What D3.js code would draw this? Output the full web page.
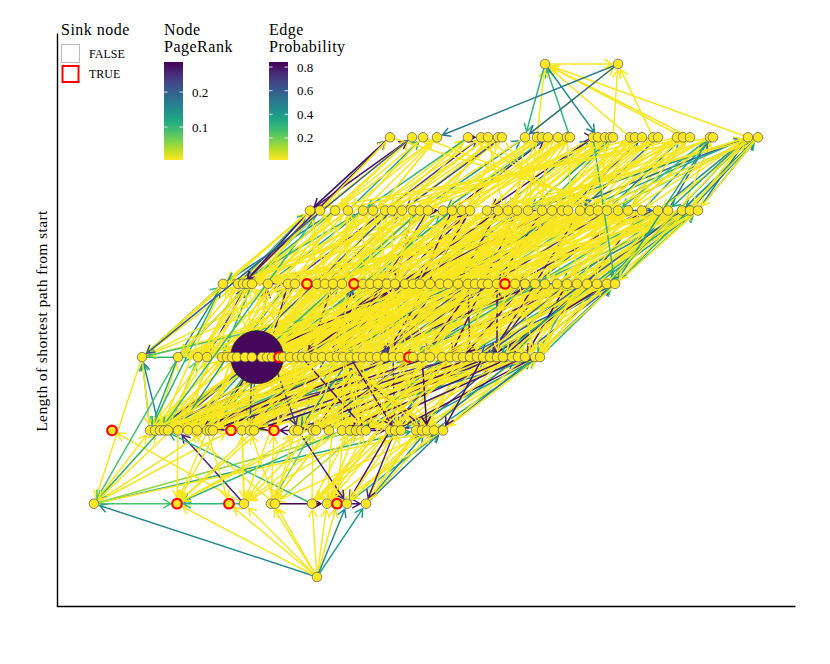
<!DOCTYPE html>
<html><head><meta charset="utf-8">
<script src="https://cdn.jsdelivr.net/npm/d3@7"></script>
<style>body{margin:0;background:#fff}svg{display:block}text{font-family:"Liberation Serif","Times New Roman",serif;fill:#000}</style>
</head><body><svg id="c" width="830" height="664"></svg>
<script>
// Layout x of nodes on each level (level = length of shortest path from start)
const levelX = [
 [317],
 [94,177,229,244,271,275,312,327,337,347,366],
 [112,150,155,160,164,168,178,188,197,207,210,213,231,242,250,254,274,294,298,313,316,329,342,350,356,361,366,390,395,401,416,422,427,434,443],
 [142,178,198,207,222,227,232,237,245,252,257,262,267,272,279,283,290,297,302,308,315,322,330,337,343,350,357,363,370,377,385,393,400,409,413,422,430,442,450,457,463,470,477,483,490,497,503,512,518,525,535,540],
 [223,238,243,247,252,268,288,295,307,317,325,333,342,354,363,370,378,387,395,405,413,420,430,440,448,458,468,475,482,488,497,505,515,525,535,545,557,567,577,587,597,607,615],
 [310,320,335,348,363,373,385,392,402,413,420,428,443,452,462,470,487,498,508,517,528,542,552,562,568,580,590,598,607,618,628,642,658,668,682,690,698],
 [390,412,423,437,468,481,488,498,502,525,537,542,548,558,567,570,593,598,605,610,613,630,635,642,653,658,677,683,690,710,713,748,758],
 [545,618]
];
// node id = level*100 + index
const sinkIds = [101,102,108,200,212,216,314,333,408,413,431];
const pageRankIds = [310];
const pageRankValues = [0.28];
const pageRankDefault = 0.006;
const pageRankTicks = [0.1, 0.2];
const probTicks = [0.2, 0.4, 0.6, 0.8];
const sinkLabels = ["FALSE", "TRUE"];

// [from, to, probability]
const edges = [
[0,100,.45],[0,101,.02],[0,102,.02],[0,103,.02],[0,104,.02],[0,105,.02],[0,106,.02],[0,107,.02],[0,108,.03],[0,109,.45],[0,110,.38],
[100,101,.25],[103,101,.3],[104,107,.85],[109,110,.8],
[100,201,.02],[100,203,.02],[100,209,.03],[100,212,.02],[100,230,.35],[100,233,.02],[100,224,.15],[103,200,.02],
[103,206,.75],[103,213,.02],[103,217,.02],[104,216,.02],[104,219,.2],[104,221,.02],[105,207,.02],[105,225,.1],[105,214,.02],[106,219,.02],[106,223,.02],[106,204,.3],[107,226,.02],[107,227,.02],[109,231,.02],[109,234,.3],[110,232,.45],[110,234,.5],[110,229,.02],[110,233,.02],
[206,101,.02],[215,101,.02],[310,101,.03],[324,101,.02],[222,101,.3],[213,103,.02],[226,103,.02],[317,103,.02],[233,104,.02],[320,105,.02],[221,104,.02],[229,106,.02],[337,106,.02],[231,107,.02],[412,107,.02],[234,108,.02],[325,108,.02],[227,109,.8],[232,109,.02],[341,110,.02],[230,110,.02],[203,100,.3],[209,102,.02],[218,109,.75],[228,110,.75],
[201,300,.3],[201,304,.02],[201,310,.03],[202,301,.02],[202,310,.8],[203,305,.02],[203,300,.45],[204,310,.02],[204,316,.02],[205,302,.2],[205,310,.7],[206,310,.02],[206,319,.02],[207,303,.03],[207,310,.35],[208,311,.02],[208,322,.6],[209,310,.02],[209,306,.02],[210,313,.3],[210,310,.02],[211,324,.02],[211,310,.8],[213,310,.02],[213,318,.02],[214,326,.02],[214,310,.45],[215,320,.02],[215,330,.7],[217,310,.02],[217,323,.2],[218,328,.02],[218,310,.03],[219,331,.02],[219,310,.02],[220,327,.85],[220,336,.02],[221,310,.02],[221,333,.3],[222,334,.02],[222,310,.03],[223,339,.02],[223,325,.55],[224,341,.02],[224,310,.02],[225,335,.02],[225,344,.4],[226,343,.02],[226,310,.02],[227,345,.02],[227,338,.75],[228,347,.02],[228,337,.3],[229,349,.02],[229,310,.02],[230,350,.02],[230,346,.6],[231,351,.02],[231,342,.02],[232,348,.45],[232,340,.02],[233,351,.35],[233,329,.02],[234,350,.5],[234,351,.02],
[201,205,.02],[217,216,.8],[231,233,.75],[226,227,.8],
[310,201,.02],[310,203,.02],[310,206,.02],[310,209,.3],[310,213,.02],[310,219,.03],[310,223,.02],[310,227,.02],[310,232,.02],[312,202,.02],[316,204,.6],[318,205,.02],[320,207,.02],[322,201,.8],[324,208,.02],[326,210,.02],[328,203,.35],[330,211,.02],[332,206,.02],[335,201,.02],[336,212,.02],[338,202,.02],[340,204,.7],[342,213,.02],[344,209,.02],[346,214,.2],[348,205,.02],[350,215,.02],[351,217,.45],[349,218,.02],[347,219,.02],[345,220,.8],[343,221,.02],[341,222,.02],[339,224,.02],[337,225,.3],[334,226,.02],[331,228,.6],[329,229,.02],[327,230,.02],[325,231,.02],[323,232,.75],[321,233,.02],[319,234,.02],[317,216,.02],[315,212,.02],[311,202,.5],[309,203,.02],[307,201,.02],[305,206,.4],[304,201,.02],[303,203,.02],[301,201,.35],[300,201,.02],[300,100,.02],[301,100,.25],[308,207,.02],[306,209,.02],[346,203,.02],[350,206,.02],[351,209,.02],[344,201,.02],[340,210,.02],[336,204,.02],[332,211,.35],[328,202,.02],[324,212,.02],[320,213,.02],[326,217,.02],[330,218,.02],[334,219,.7],[338,221,.02],[342,223,.02],[348,226,.02],[351,229,.4],
[336,210,.8],[342,215,.82],[347,222,.8],[349,225,.78],[344,217,.8],[339,213,.75],[332,208,.8],[350,228,.82],[327,205,.78],
[315,316,.8],[327,328,.75],[340,342,.8],[300,302,.3],[346,348,.6],
[300,400,.3],[300,401,.02],[301,400,.45],[302,402,.02],[303,403,.7],[304,404,.02],[305,405,.02],[306,406,.35],[307,407,.02],[308,408,.02],[309,409,.02],[310,410,.02],[310,405,.8],[310,413,.02],[310,420,.02],[311,411,.02],[312,412,.6],[313,414,.02],[315,415,.02],[316,416,.3],[317,417,.02],[318,418,.02],[319,419,.85],[320,420,.02],[321,421,.02],[322,422,.4],[323,423,.02],[324,424,.02],[325,425,.02],[326,426,.7],[327,427,.02],[328,428,.02],[329,429,.25],[330,430,.02],[331,431,.02],[332,432,.02],[334,433,.55],[335,434,.02],[336,435,.02],[337,436,.8],[338,437,.02],[339,438,.02],[340,439,.3],[341,440,.02],[342,441,.02],[343,442,.45],[344,440,.02],[345,441,.02],[346,442,.02],[347,438,.35],[348,442,.6],[349,441,.02],[350,442,.45],[351,442,.3],[351,440,.02],[350,439,.02],[302,404,.02],[304,406,.02],[307,409,.02],[311,400,.02],[317,404,.02],[321,410,.02],[325,416,.02],[330,424,.02],[335,428,.02],[339,432,.02],
[400,300,.02],[401,301,.02],[402,310,.02],[403,302,.02],[404,304,.3],[405,310,.02],[406,300,.02],[407,310,.6],[409,303,.02],[410,310,.02],[411,306,.02],[412,310,.02],[414,305,.02],[415,310,.35],[416,308,.02],[417,301,.02],[418,310,.02],[419,311,.02],[420,310,.8],[421,313,.02],[422,300,.02],[423,315,.02],[424,310,.02],[425,316,.45],[426,318,.02],[427,310,.02],[428,320,.02],[429,322,.7],[430,310,.02],[432,324,.02],[433,326,.02],[434,310,.3],[435,328,.02],[436,330,.02],[437,310,.02],[438,332,.8],[439,334,.02],[440,335,.02],[441,310,.02],[442,337,.02],[442,340,.55],[441,343,.02],[440,345,.02],[439,348,.02],[438,350,.35],[437,351,.02],[436,347,.02],[435,344,.75],[434,341,.02],[433,338,.02],[432,336,.02],[430,331,.02],[428,327,.02],[426,323,.6],[424,319,.02],[422,317,.02],[420,312,.02],[418,309,.02],[416,307,.3],[414,302,.02],[412,301,.02],[410,300,.02],[442,301,.02],[440,303,.02],[438,305,.02],[436,307,.02],[434,309,.02],[432,311,.02],[430,312,.02],[425,300,.25],[421,302,.02],[417,304,.02],
[441,344,.8],[439,346,.78],[437,349,.82],
[442,201,.02],[440,203,.02],[437,205,.02],[435,207,.3],[432,209,.02],[430,211,.02],[428,213,.02],[425,215,.02],[423,217,.02],[420,219,.02],[418,221,.02],[415,223,.02],[412,225,.02],[410,227,.02],[407,229,.02],[405,231,.02],[402,233,.02],[400,201,.3],[400,203,.02],[401,204,.02],[403,206,.02],[406,208,.02],[409,210,.02],[411,212,.02],[414,214,.02],[417,216,.02],[419,218,.45],[421,220,.02],[424,222,.02],[426,224,.02],[429,226,.02],[433,228,.02],[436,230,.02],[439,232,.02],[441,234,.02],[442,206,.02],[438,202,.02],[434,208,.8],[427,204,.02],
[440,101,.02],[425,103,.02],[415,104,.02],[435,106,.02],[420,107,.02],[430,109,.02],[405,101,.02],[410,100,.02],
[404,406,.8],[428,430,.75],[435,437,.5],[414,416,.7],
[316,417,.8],[322,413,.82],[341,426,.78],[345,430,.8],[419,322,.8],[423,330,.75],[427,335,.82],[433,340,.8],[318,226,.8],[325,228,.78],[335,232,.82],[343,234,.8],[422,318,.6],[426,329,.65],[437,342,.6],[309,214,.65],[313,218,.7],[406,312,.8],[411,319,.78],
[400,500,.02],[401,500,.3],[402,501,.02],[403,502,.02],[404,503,.02],[405,504,.4],[406,505,.02],[407,506,.02],[409,507,.02],[410,508,.65],[411,509,.02],[412,510,.02],[414,511,.02],[415,512,.3],[416,513,.02],[417,514,.02],[418,515,.8],[419,516,.02],[420,517,.02],[421,518,.02],[422,519,.45],[423,520,.02],[424,521,.02],[425,522,.02],[426,523,.7],[427,524,.02],[428,525,.02],[429,526,.25],[430,527,.02],[432,528,.02],[433,529,.02],[434,530,.55],[435,531,.02],[436,532,.02],[437,533,.35],[438,534,.02],[439,535,.02],[440,536,.4],[441,536,.02],[442,535,.35],[442,536,.3],[441,534,.02],[440,533,.02],[439,531,.8],[438,530,.02],[437,528,.02],[405,502,.02],[409,500,.02],[412,503,.02],[416,506,.02],[420,508,.02],[424,512,.02],[427,516,.02],[432,520,.02],[436,524,.02],[436,535,.02],[434,536,.3],[430,534,.02],[426,536,.02],
[500,400,.02],[501,401,.02],[502,402,.35],[503,403,.02],[504,404,.02],[505,405,.02],[506,406,.7],[507,407,.02],[508,409,.02],[509,410,.02],[510,411,.02],[511,412,.3],[512,413,.02],[513,414,.02],[514,415,.02],[515,416,.85],[516,417,.02],[517,418,.02],[518,419,.02],[519,420,.4],[520,421,.02],[521,422,.02],[522,423,.02],[523,424,.6],[524,425,.02],[525,426,.02],[526,427,.02],[527,428,.3],[528,429,.02],[529,430,.02],[530,431,.02],[531,432,.75],[532,433,.02],[533,434,.02],[534,435,.02],[535,436,.45],[536,437,.02],[536,438,.02],[535,439,.02],[534,440,.02],[533,441,.35],[532,442,.02],[536,400,.02],[534,401,.02],[532,402,.02],[530,403,.02],[528,404,.02],[526,405,.02],[524,406,.02],[522,407,.02],[520,409,.02],[518,410,.02],[516,411,.02],[514,412,.02],[512,400,.02],[510,402,.02],[508,404,.02],[506,403,.02],[504,401,.3],[502,400,.45],[500,402,.8],[531,408,.02],[529,413,.02],[527,418,.02],[525,422,.02],[523,427,.02],
[509,418,.8],[513,421,.78],[517,425,.8],[521,430,.82],[511,323,.75],[515,330,.8],[519,338,.8],[525,344,.78],
[500,300,.02],[501,301,.3],[502,302,.02],[503,303,.02],[504,304,.02],[505,305,.02],[506,306,.02],[507,307,.6],[508,308,.02],[509,309,.02],[510,310,.02],[511,311,.02],[512,312,.02],[513,313,.35],[514,315,.02],[515,316,.02],[516,317,.02],[517,318,.8],[518,319,.02],[519,320,.02],[520,321,.02],[521,322,.02],[522,323,.02],[523,324,.45],[524,325,.02],[525,326,.02],[526,327,.02],[527,328,.02],[528,329,.7],[529,330,.02],[530,331,.02],[531,332,.02],[532,334,.3],[533,335,.02],[534,336,.02],[535,337,.02],[536,338,.02],[536,310,.02],[534,310,.02],[532,310,.02],[530,310,.02],[528,310,.02],[526,310,.02],[524,310,.02],[522,310,.8],[520,310,.02],[518,310,.02],[516,310,.02],[514,310,.02],[512,310,.02],[510,310,.3],[508,310,.02],[506,310,.02],[504,310,.02],[502,310,.02],[536,301,.02],[535,303,.02],[533,305,.02],[531,307,.02],[529,309,.02],[527,312,.02],[525,315,.02],[523,317,.02],[521,319,.02],[519,321,.02],[517,323,.02],[515,325,.02],[511,327,.02],[509,329,.02],[507,331,.02],[505,333,.02],[503,335,.02],[501,337,.02],[535,345,.35],[533,347,.02],[531,349,.02],[529,351,.02],[536,350,.02],[534,343,.6],
[500,201,.02],[501,203,.3],[502,205,.02],[504,207,.02],[508,209,.02],[512,211,.02],[516,213,.02],[520,215,.02],[524,218,.02],[528,220,.02],[532,223,.02],[536,226,.02],[535,201,.02],[533,204,.02],[530,206,.02],[526,208,.02],[522,210,.02],[518,212,.02],[514,214,.02],[510,216,.02],[506,219,.02],[503,222,.02],[500,225,.02],
[536,101,.02],[530,103,.02],[526,106,.02],[520,107,.02],
[510,512,.8],[520,522,.75],[530,532,.6],
[500,600,.5],[501,600,.02],[502,601,.02],[503,602,.35],[504,603,.02],[505,604,.02],[506,605,.7],[507,606,.02],[508,607,.02],[509,608,.02],[510,609,.4],[511,610,.02],[512,611,.02],[513,612,.8],[514,613,.02],[515,614,.02],[516,615,.02],[517,616,.45],[518,617,.02],[519,618,.02],[520,619,.02],[521,620,.3],[522,621,.02],[523,622,.02],[524,623,.6],[525,624,.02],[526,625,.02],[527,626,.02],[528,627,.45],[529,628,.02],[530,629,.02],[531,630,.35],[532,631,.45],[533,631,.02],[534,632,.4],[535,632,.45],[536,631,.5],[536,632,.35],[535,631,.02],[534,630,.02],[533,629,.55],[500,601,.8],[502,603,.02],[506,604,.02],[510,607,.02],[514,610,.02],[518,614,.02],[522,618,.02],[526,622,.02],[530,626,.02],
[520,631,.45],[525,631,.35],[528,632,.4],[530,631,.02],[523,631,.55],[526,632,.3],[518,631,.02],
[600,500,.8],[601,501,.02],[602,502,.02],[603,503,.02],[604,504,.3],[605,505,.02],[606,506,.02],[607,507,.02],[608,508,.65],[609,509,.02],[610,510,.02],[611,511,.02],[612,512,.35],[613,513,.02],[614,514,.02],[615,515,.02],[616,516,.8],[617,517,.02],[618,518,.02],[619,519,.02],[620,520,.4],[621,521,.02],[622,522,.02],[623,523,.02],[624,524,.02],[625,525,.55],[626,526,.02],[627,527,.02],[628,528,.02],[629,529,.3],[630,530,.02],[631,531,.02],[632,532,.02],[631,533,.35],[632,534,.4],[631,535,.02],[632,536,.02],[630,500,.02],[628,502,.02],[626,504,.02],[624,506,.02],[622,508,.02],[620,510,.02],[618,512,.02],[616,514,.02],[614,516,.02],[612,518,.02],[610,520,.02],[608,522,.02],[606,524,.02],[604,526,.02],[602,528,.02],[600,530,.02],
[632,400,.02],[631,405,.02],[630,410,.02],[628,415,.02],[626,420,.02],[624,425,.02],[622,430,.02],[620,435,.02],[618,440,.02],[616,442,.3],[614,438,.02],[612,434,.02],[610,428,.02],[608,422,.02],[606,416,.02],[604,412,.02],[602,406,.02],[600,402,.8],[601,404,.02],[603,409,.02],[629,442,.35],[631,441,.4],[632,442,.02],
[632,310,.02],[630,305,.02],[627,315,.02],[624,320,.02],[621,325,.02],[618,330,.02],[615,335,.02],[612,340,.02],[609,345,.02],[606,350,.02],[603,310,.02],[600,301,.02],[601,300,.6],[631,350,.02],[628,346,.02],
[632,201,.02],[629,207,.02],[626,213,.02],[623,220,.02],[620,226,.02],
[604,605,.8],[616,617,.75],
[609,701,.02],[620,701,.02],[624,701,.02],[615,700,.3],[631,700,.02],[628,700,.02],[627,700,.02],[621,700,.02],[610,700,.02],
[700,617,.45],[700,609,.3],[701,603,.5],[701,609,.55],[700,701,.02]
];

// ---- build nodes ----
const prMap = new Map(pageRankIds.map((id,i)=>[id,pageRankValues[i]]));
const nodes = [];
levelX.forEach((xs,lv)=>xs.forEach((vx,i)=>{
  const id = lv*100+i;
  nodes.push({id, level:lv, x:vx, sink:sinkIds.includes(id), pr: prMap.has(id)?prMap.get(id):pageRankDefault});
}));
const byId = new Map(nodes.map(n=>[n.id,n]));

const svg = d3.select("#c");
const x = d3.scaleLinear().domain([57,795]).range([57,795]);
const y = d3.scaleLinear().domain([0,7]).range([577,64]);
const rScale = d3.scaleSqrt().domain([pageRankDefault,0.28]).range([4.8,26.5]);
const prDomain = [0.0057,0.286];
const probDomain = [0.013,0.843];
const nodeColor = d3.scaleSequential(d3.interpolateViridis).domain([prDomain[1],prDomain[0]]);
const edgeColor = d3.scaleSequential(d3.interpolateViridis).domain([probDomain[1],probDomain[0]]);

// axes
svg.append("g").attr("transform","translate(57,0)")
  .call(d3.axisLeft(d3.scaleLinear().range([606,33])).tickValues([]).tickSizeOuter(0))
  .select(".domain").attr("stroke","#000").attr("stroke-width",1.4);
svg.append("g").attr("transform","translate(0,606)")
  .call(d3.axisBottom(d3.scaleLinear().range([56.3,795])).tickValues([]).tickSizeOuter(0))
  .select(".domain").attr("stroke","#000").attr("stroke-width",1.4);

svg.append("text").attr("transform","translate(47,321) rotate(-90)")
  .attr("text-anchor","middle").style("font-size","15.5px").style("letter-spacing","0.4px")
  .text("Length of shortest path from start");

// edges
const cap = 6, headLen = 9, ang = Math.PI/6;
const eg = svg.append("g").attr("fill","none").attr("stroke-width",1.5);
edges.forEach(([a,b,p])=>{
  const s = byId.get(a), t = byId.get(b);
  const sx = x(s.x), sy = y(s.level), tx = x(t.x), ty = y(t.level);
  const dx = tx-sx, dy = ty-sy, L = Math.hypot(dx,dy);
  const ux = dx/L, uy = dy/L;
  const ex = tx-ux*cap, ey = ty-uy*cap;
  const c = Math.cos(ang), sn = Math.sin(ang);
  const a1x = ex-headLen*(ux*c-uy*sn), a1y = ey-headLen*(uy*c+ux*sn);
  const a2x = ex-headLen*(ux*c+uy*sn), a2y = ey-headLen*(uy*c-ux*sn);
  eg.append("path")
    .attr("d",`M${sx},${sy}L${ex},${ey}M${a1x},${a1y}L${ex},${ey}L${a2x},${a2y}`)
    .attr("stroke",edgeColor(p));
});

// nodes
const sorted = nodes.slice().sort((a,b)=>b.pr-a.pr);
svg.append("g").selectAll("circle").data(sorted).join("circle")
  .attr("cx",d=>x(d.x)).attr("cy",d=>y(d.level)).attr("r",d=>rScale(d.pr))
  .attr("fill",d=>nodeColor(d.pr))
  .attr("stroke",d=>d.sink?"#ff0000":(d.pr>0.1?"#222":"#555"))
  .attr("stroke-width",d=>d.sink?2.2:0.7);

// ---- legends ----
const lg = svg.append("g");
lg.append("text").attr("x",61).attr("y",35).style("font-size","16px").style("letter-spacing","0.5px").text("Sink node");
lg.append("rect").attr("x",61.5).attr("y",44.5).attr("width",18).attr("height",18).attr("fill","#fff").attr("stroke","#bdbdbd").attr("stroke-width",1);
lg.append("rect").attr("x",62.5).attr("y",66).attr("width",16).attr("height",16).attr("fill","#fff").attr("stroke","#ff0000").attr("stroke-width",2);
sinkLabels.forEach((s,i)=>lg.append("text").attr("x",89).attr("y",58+i*20).style("font-size","12px").text(s));

function colorbar(x0, title1, title2, domain, ticks, id){
  lg.append("text").attr("x",x0).attr("y",35).style("font-size","16px").style("letter-spacing","0.5px").text(title1);
  lg.append("text").attr("x",x0).attr("y",52).style("font-size","16px").style("letter-spacing","0.5px").text(title2);
  const grad = svg.append("defs").append("linearGradient").attr("id",id)
    .attr("x1",0).attr("x2",0).attr("y1",1).attr("y2",0);
  d3.range(0,1.0001,0.1).forEach(t=>grad.append("stop").attr("offset",t).attr("stop-color",d3.interpolateViridis(1-t)));
  const top=62, bot=160, w=19;
  lg.append("rect").attr("x",x0).attr("y",top).attr("width",w).attr("height",bot-top).attr("fill",`url(#${id})`);
  const s = d3.scaleLinear().domain(domain).range([bot,top]);
  ticks.forEach(v=>{
    const yy = s(v);
    lg.append("line").attr("x1",x0).attr("x2",x0+3.5).attr("y1",yy).attr("y2",yy).attr("stroke","#fff").attr("stroke-width",0.8);
    lg.append("line").attr("x1",x0+w-3.5).attr("x2",x0+w).attr("y1",yy).attr("y2",yy).attr("stroke","#fff").attr("stroke-width",0.8);
    lg.append("text").attr("x",x0+w+9).attr("y",yy+4.5).style("font-size","13px").text(d3.format(".1f")(v));
  });
}
colorbar(164,"Node","PageRank",prDomain,pageRankTicks,"gpr");
colorbar(269,"Edge","Probability",probDomain,probTicks,"gep");
</script></body></html>
